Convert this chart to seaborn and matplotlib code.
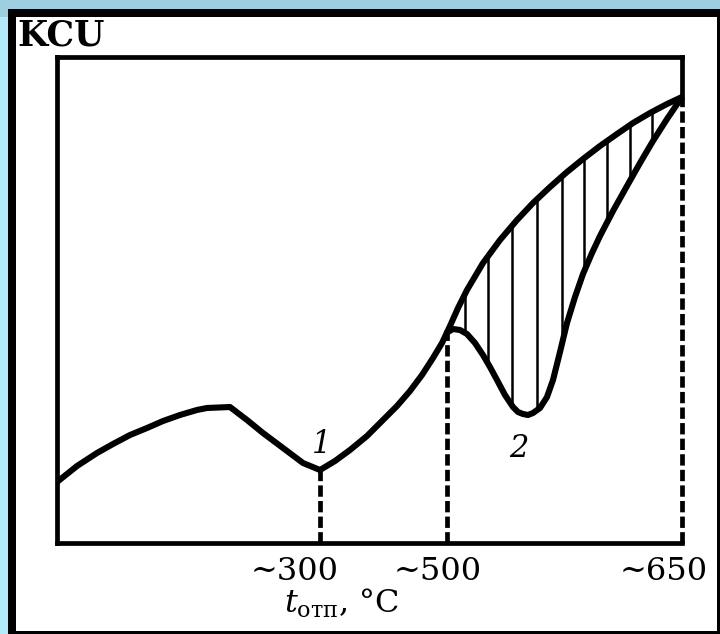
import numpy as np
import pandas as pd
import matplotlib
matplotlib.use("Agg")
import matplotlib.pyplot as plt
import seaborn as sns
from matplotlib.patches import Rectangle
from matplotlib.transforms import ScaledTranslation

# ---- data (schematic units: x 0..100 along tempering temperature, y 0..100 KCU) ----
curve1_x = [0.0, 3.2, 6.4, 8.96, 11.68, 14.4, 16.96, 19.68, 22.4, 24.0, 27.68, 30.4,
            32.96, 36.16, 39.36, 42.08, 44.48, 46.88, 49.6, 52.16, 54.4, 56.48, 58.4,
            60.16, 61.6, 62.88, 64.16, 65.6, 68.16, 70.88, 73.6, 76.16, 78.88, 81.6,
            84.16, 86.88, 89.6, 92.16, 94.88, 97.6, 100.0]
curve1_y = [12.55, 15.84, 18.52, 20.37, 22.22, 23.66, 25.10, 26.34, 27.37, 27.78, 27.98,
            25.31, 22.63, 19.55, 16.46, 15.02, 16.87, 19.14, 22.02, 25.31, 28.19, 31.28,
            34.57, 38.07, 41.15, 44.65, 48.35, 52.06, 57.61, 62.35, 66.46, 69.96, 73.25,
            76.34, 79.01, 81.69, 84.16, 86.42, 88.48, 90.33, 91.77]
curve2_x = [62.4, 63.36, 64.48, 65.6, 66.88, 68.16, 69.28, 70.4, 71.68, 72.96, 73.76,
            74.56, 75.36, 76.16, 77.28, 78.4, 79.36, 80.48, 81.6, 82.88, 84.16, 85.6,
            86.88, 88.96, 91.2, 93.28, 95.36, 97.6, 100.0]
curve2_y = [43.3, 44.03, 43.83, 43.0, 41.15, 38.68, 36.21, 33.54, 30.45, 27.98, 26.95,
            26.54, 26.34, 26.75, 27.78, 30.04, 33.54, 39.30, 45.27, 50.62, 55.35, 59.67,
            63.17, 68.31, 73.46, 78.19, 82.72, 87.24, 91.77]
hatch_x = [65.3, 69.0, 72.8, 76.8, 80.8, 84.3, 88.0, 91.7, 95.2]
tick_pos = [42.1, 62.4, 100.0]
tick_labels = ["~300", "~500", "~650"]
tick_label_dx = [-25, -9, -18]          # pixel offsets of the tick texts
curve_labels = ["1", "2"]
curve_label_pos = [(42.4, 18.5), (73.9, 17.7)]

sns.set_theme(style="white")
plt.rcParams["font.family"] = ["DejaVu Serif"]
plt.rcParams["mathtext.fontset"] = "dejavuserif"

W, H = 720, 634
fig = plt.figure(figsize=(W / 100, H / 100), dpi=100)
fig.patch.set_facecolor("#9ecfe0")
# light strip on the left, black frame, white sheet
fig.add_artist(Rectangle((0, 0), 8 / W, 1 - 17 / H, transform=fig.transFigure,
                         facecolor="#b2eafa", edgecolor="none", zorder=-10))
fig.add_artist(Rectangle((8 / W, 0), 1 - 8 / W, 1 - 9 / H, transform=fig.transFigure,
                         facecolor="black", edgecolor="none", zorder=-9))
sheet = Rectangle((16 / W, 1 - 631 / H), (717 - 16) / W, (631 - 17) / H,
                  transform=fig.transFigure, facecolor="white", edgecolor="none", zorder=-8)
fig.add_artist(sheet)

ax = fig.add_axes([57 / W, 1 - 543 / H, 625 / W, 486 / H])
ax.set_facecolor("white")

df1 = pd.DataFrame({"t": curve1_x, "kcu": curve1_y})
df2 = pd.DataFrame({"t": curve2_x, "kcu": curve2_y})
line_kw = dict(color="black", linewidth=4.4, estimator=None, legend=False)
sns.lineplot(data=df1, x="t", y="kcu", ax=ax, **line_kw)
sns.lineplot(data=df2, x="t", y="kcu", ax=ax, **line_kw)
for ln in ax.lines:
    ln.set_solid_joinstyle("round")
    ln.set_solid_capstyle("round")

# hatching between the curves
top = np.interp(hatch_x, curve1_x, curve1_y)
bot = np.interp(hatch_x, curve2_x, curve2_y)
ax.vlines(hatch_x, bot, top, colors="black", linewidth=1.8, zorder=1)

# dashed verticals from the curve down to the axis
dash = (0, (2.4, 0.9))
for xp in tick_pos:
    yv = float(np.interp(xp, curve1_x, curve1_y))
    ax.plot([xp, xp], [0, yv], color="black", linewidth=3.4, linestyle=dash,
            clip_on=False, zorder=1)
# right border: solid above the curve end
yend = curve1_y[-1]
ax.plot([100, 100], [yend, 100], color="black", linewidth=3.4, clip_on=False,
        solid_capstyle="projecting")

ax.set_xlim(0, 100)
ax.set_ylim(0, 100)
ax.set_xticks([])
ax.set_yticks([])
ax.set_xlabel("")
ax.set_ylabel("")
for side in ["left", "top", "bottom"]:
    ax.spines[side].set_visible(True)
    ax.spines[side].set_color("black")
    ax.spines[side].set_linewidth(3.4)
ax.spines["right"].set_visible(False)

# tick texts
for xp, lab, dx in zip(tick_pos, tick_labels, tick_label_dx):
    tr = ax.get_xaxis_transform() + ScaledTranslation(dx / 100, 0, fig.dpi_scale_trans)
    t = ax.text(xp, -37 / 486, lab, transform=tr, ha="center", va="baseline",
                fontsize=23, color="black", clip_on=False)
    t.set_clip_path(sheet)

# curve labels
for lab, (cx, cy) in zip(curve_labels, curve_label_pos):
    ax.text(cx, cy, lab, ha="center", va="baseline", fontsize=22, style="italic",
            color="black")

# axis titles
fig.text(17 / W, 1 - 46 / H, "KCU", ha="left", va="baseline", fontsize=25,
         fontweight="bold", color="black")
fig.text(342 / W, 1 - 613 / H, r"$t_{\mathrm{отп}}$, °C", ha="center", va="baseline",
         fontsize=23, color="black")

fig.savefig("out.png", dpi=100, facecolor=fig.get_facecolor())
